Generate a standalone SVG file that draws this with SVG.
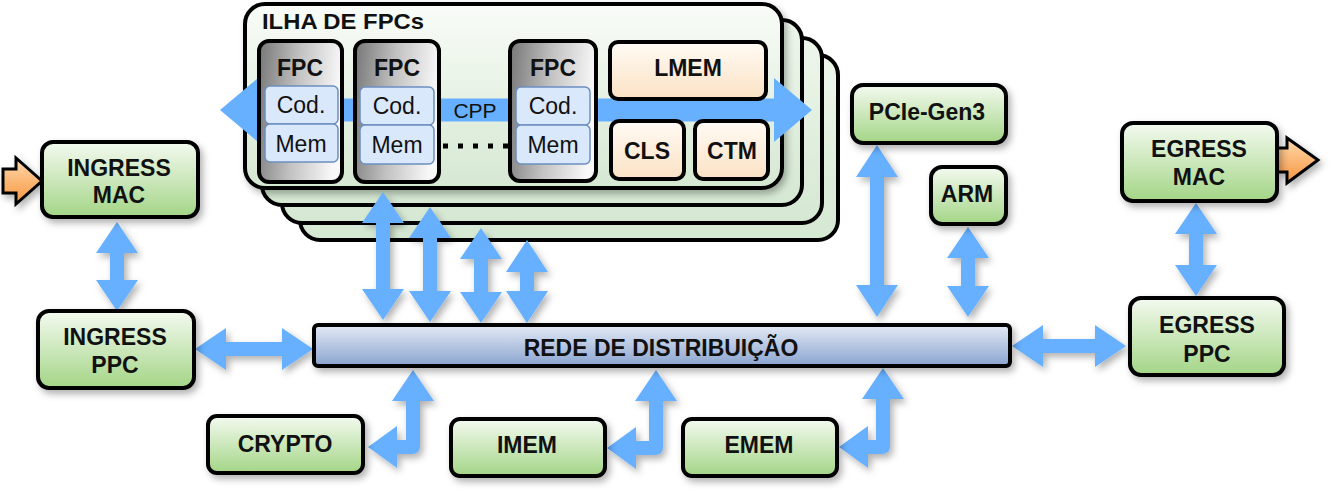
<svg xmlns="http://www.w3.org/2000/svg" width="1340" height="500" viewBox="0 0 1340 500">
<defs>
<linearGradient id="gGreen" x1="0" y1="0" x2="0" y2="1"><stop offset="0" stop-color="#f4faf0"/><stop offset="1" stop-color="#a3d586"/></linearGradient>
<linearGradient id="gIsl" x1="0" y1="0" x2="0" y2="1"><stop offset="0" stop-color="#f9fcf8"/><stop offset="1" stop-color="#d5e8d2"/></linearGradient>
<linearGradient id="gIslBack" x1="0" y1="0" x2="0" y2="1"><stop offset="0" stop-color="#eef6ec"/><stop offset="1" stop-color="#d5e8d2"/></linearGradient>
<linearGradient id="gBus" x1="0" y1="0" x2="0" y2="1"><stop offset="0" stop-color="#e4eaf5"/><stop offset="1" stop-color="#8aa4cf"/></linearGradient>
<linearGradient id="gPeach" x1="0" y1="0" x2="0" y2="1"><stop offset="0" stop-color="#fffbf5"/><stop offset="1" stop-color="#fbe1c3"/></linearGradient>
<linearGradient id="gFpc" x1="0" y1="0" x2="1" y2="0.15"><stop offset="0" stop-color="#767676"/><stop offset="0.5" stop-color="#c2c2c2"/><stop offset="1" stop-color="#f8f8f8"/></linearGradient>
<linearGradient id="gOrange" x1="0" y1="0" x2="0" y2="1"><stop offset="0" stop-color="#ffd9ad"/><stop offset="1" stop-color="#f7963f"/></linearGradient>
<filter id="sh" x="-20%" y="-20%" width="150%" height="160%"><feDropShadow dx="3" dy="4" stdDeviation="3.5" flood-color="#000" flood-opacity="0.3"/></filter>
</defs>
<style>
.node{fill:url(#gGreen);stroke:#000;stroke-width:4;filter:url(#sh)}
.lbl{font-family:"Liberation Sans",Arial,sans-serif;font-weight:bold;font-size:23px;fill:#111;text-anchor:middle}
.sub{font-family:"Liberation Sans",Arial,sans-serif;font-size:23px;fill:#111;text-anchor:middle}
.isl{stroke:#000;stroke-width:4}
.fpc{fill:url(#gFpc);stroke:#000;stroke-width:4}
.cell{fill:#dae8fc;stroke:#6c8ebf;stroke-width:1.5}
.peach{fill:url(#gPeach);stroke:#000;stroke-width:4}
.arr{fill:#66b0ff;filter:url(#sh)}
.oarr{fill:url(#gOrange);stroke:#000;stroke-width:3;stroke-linejoin:miter;filter:url(#sh)}
</style>
<rect width="1340" height="500" fill="#fff"/>

<g id="island">
<rect class="isl" x="300" y="55" width="538" height="185" rx="20" fill="url(#gIslBack)"/>
<rect class="isl" x="282" y="38" width="540" height="185" rx="20" fill="url(#gIslBack)"/>
<rect class="isl" x="262" y="20" width="540" height="185" rx="20" fill="url(#gIslBack)"/>
<rect class="isl" x="245" y="4" width="537" height="184" rx="20" fill="url(#gIsl)" filter="url(#sh)"/>
<text x="262" y="29" font-family="Liberation Sans,Arial,sans-serif" font-weight="bold" font-size="22" fill="#111" textLength="162" lengthAdjust="spacingAndGlyphs">ILHA DE FPCs</text>
<g id="cpp">
<polygon fill="#66b0ff" points="220,110 258,78 258,98.5 774,98.5 774,78 812,110 774,142 774,121.5 258,121.5 258,142"/>
<text x="475" y="118" font-family="Liberation Sans,Arial,sans-serif" font-size="21" fill="#111" text-anchor="middle">CPP</text>
</g>
<line x1="443" y1="146" x2="510" y2="146" stroke="#000" stroke-width="5" stroke-dasharray="5 10"/>
<g id="fpc1">
<rect class="fpc" x="259" y="41" width="83" height="141" rx="10"/>
<text class="lbl" x="300" y="76">FPC</text>
<rect class="cell" x="265" y="86" width="73" height="38" rx="5"/>
<rect class="cell" x="265" y="124" width="73" height="38" rx="5"/>
<text class="sub" x="301" y="113">Cod.</text>
<text class="sub" x="301" y="152">Mem</text>
</g>
<g id="fpc2">
<rect class="fpc" x="355" y="41" width="84" height="141" rx="10"/>
<text class="lbl" x="397" y="76">FPC</text>
<rect class="cell" x="360" y="87" width="74" height="38" rx="5"/>
<rect class="cell" x="360" y="125" width="74" height="39" rx="5"/>
<text class="sub" x="397" y="114">Cod.</text>
<text class="sub" x="397" y="153">Mem</text>
</g>
<g id="fpc3">
<rect class="fpc" x="510" y="41" width="86" height="140" rx="10"/>
<text class="lbl" x="553" y="76">FPC</text>
<rect class="cell" x="516" y="87" width="74" height="38" rx="5"/>
<rect class="cell" x="516" y="125" width="74" height="39" rx="5"/>
<text class="sub" x="553" y="114">Cod.</text>
<text class="sub" x="553" y="153">Mem</text>
</g>
<g id="lmem"><rect class="peach" x="610" y="42" width="156" height="57" rx="8"/><text class="lbl" x="688" y="76">LMEM</text></g>
<g id="cls"><rect class="peach" x="611" y="121" width="73" height="58" rx="8"/><text class="lbl" x="647" y="159">CLS</text></g>
<g id="ctm"><rect class="peach" x="695" y="121" width="73" height="58" rx="8"/><text class="lbl" x="732" y="159">CTM</text></g>
</g>

<g id="connectors">
<polygon class="arr" points="117,222 138,253 124,253 124,280 138,280 117,311 96,280 110,280 110,253 96,253"/>
<polygon class="arr" points="383,192 404,223 390,223 390,289 404,289 383,320 362,289 376,289 376,223 362,223"/>
<polygon class="arr" points="430,207 451,238 437,238 437,291 451,291 430,322 409,291 423,291 423,238 409,238"/>
<polygon class="arr" points="481,228 502,259 488,259 488,292 502,292 481,323 460,292 474,292 474,259 460,259"/>
<polygon class="arr" points="527,240 548,272 534,272 534,291 548,291 527,323 506,291 520,291 520,272 506,272"/>
<polygon class="arr" points="877,145 898,177 884,177 884,285 898,285 877,317 856,285 870,285 870,177 856,177"/>
<polygon class="arr" points="968,227 989,258 975,258 975,286 989,286 968,317 947,286 961,286 961,258 947,258"/>
<polygon class="arr" points="1196,203 1217,234 1203,234 1203,265 1217,265 1196,296 1175,265 1189,265 1189,234 1175,234"/>
<polygon class="arr" points="195,349 226,328 226,342 282,342 282,328 313,349 282,370 282,356 226,356 226,370"/>
<polygon class="arr" points="1012,346 1043,325 1043,339 1095,339 1095,325 1126,346 1095,367 1095,353 1043,353 1043,367"/>
<path class="arr" d="M413,370 L434,401 L420,401 L420,446 Q420,454 412,454 L397,454 L397,468 L368,447 L397,426 L397,440 L406,440 L406,401 L392,401 Z"/>
<path class="arr" d="M656,370 L677,401 L663,401 L663,447 Q663,455 655,455 L636,455 L636,469 L607,448 L636,427 L636,441 L649,441 L649,401 L635,401 Z"/>
<path class="arr" d="M883,368 L904,399 L890,399 L890,446 Q890,454 882,454 L868,454 L868,468 L839,447 L868,426 L868,440 L876,440 L876,399 L862,399 Z"/>
<path class="oarr" d="M3,169 L16,169 L16,158 L42,181 L16,204 L16,193 L3,193 Z"/>
<path class="oarr" d="M1277,148 L1287,148 L1287,138 L1318,160 L1287,183 L1287,172 L1277,172 Z"/>
</g>

<g id="bus">
<rect x="314" y="325" width="696" height="41" rx="4" fill="url(#gBus)" stroke="#000" stroke-width="4" filter="url(#sh)"/>
<text class="lbl" x="661" y="356" font-size="23.5">REDE DE DISTRIBUIÇÃO</text>
</g>
<g id="ingress-mac"><rect class="node" x="42" y="142" width="156" height="75" rx="11"/><text class="lbl" x="119" y="176">INGRESS</text><text class="lbl" x="119" y="203">MAC</text></g>
<g id="ingress-ppc"><rect class="node" x="38" y="311" width="156" height="77" rx="11"/><text class="lbl" x="115" y="345">INGRESS</text><text class="lbl" x="115" y="373">PPC</text></g>
<g id="pcie"><rect class="node" x="852" y="85" width="154" height="58" rx="11"/><text class="lbl" x="927" y="120">PCIe-Gen3</text></g>
<g id="arm"><rect class="node" x="931" y="167" width="75" height="57" rx="11"/><text class="lbl" x="967" y="202">ARM</text></g>
<g id="egress-mac"><rect class="node" x="1122" y="123" width="155" height="78" rx="11"/><text class="lbl" x="1199" y="157">EGRESS</text><text class="lbl" x="1199" y="185">MAC</text></g>
<g id="egress-ppc"><rect class="node" x="1130" y="298" width="154" height="77" rx="11"/><text class="lbl" x="1207" y="333">EGRESS</text><text class="lbl" x="1207" y="362">PPC</text></g>
<g id="crypto"><rect class="node" x="208" y="416" width="155" height="57" rx="9"/><text class="lbl" x="285" y="452">CRYPTO</text></g>
<g id="imem"><rect class="node" x="451" y="419" width="154" height="57" rx="9"/><text class="lbl" x="527" y="453">IMEM</text></g>
<g id="emem"><rect class="node" x="683" y="419" width="154" height="57" rx="9"/><text class="lbl" x="759" y="453">EMEM</text></g>
</svg>
